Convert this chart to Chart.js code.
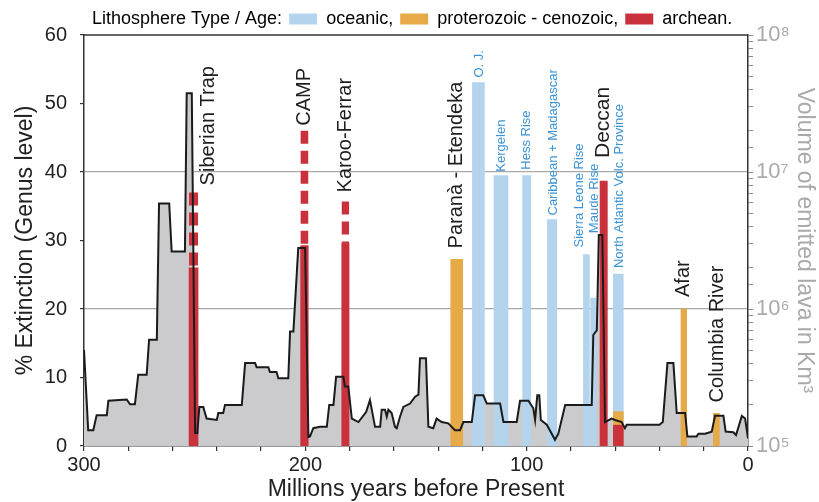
<!DOCTYPE html>
<html>
<head>
<meta charset="utf-8">
<title>Extinction vs LIP volumes</title>
<script src="https://cdn.jsdelivr.net/npm/chart.js@4.4.1/dist/chart.umd.min.js"></script>
<style>
  html, body { margin: 0; padding: 0; background: #fff; }
</style>
</head>
<body>
<canvas id="chart" width="819" height="502"></canvas>
<script>
/**
 * Genus-level extinction through time, with large igneous provinces
 * (volume of emitted lava, log scale) coloured by lithosphere type.
 */

// extinction curve: age (Ma) and % genus extinction
const extinctionAge = [
  300, 298.1, 295.8, 294.3, 289.7, 289.0, 280.7, 279.2, 277.0, 275.5,
  271.7, 270.6, 267.1, 266.1, 261.5, 260.4, 254.4, 253.6, 251.3, 249.8,
  248.8, 247.9, 246.1, 244.6, 240.0, 239.3, 237.1, 236.3, 228.7, 227.2,
  222.7, 222.0, 216.7, 216.0, 213.0, 212.2, 207.7, 206.9, 205.4, 203.2,
  200.1, 198.6, 197.9, 196.4, 193.4, 190.3, 189.2, 187.3, 186.1, 182.8,
  182.1, 180.6, 179.0, 176.0, 172.5, 170.8, 168.5, 166.2, 165.5, 164.0,
  163.2, 162.5, 161.0, 159.5, 158.7, 157.2, 155.7, 152.7, 150.4, 148.9,
  148.2, 145.5, 144.4, 142.2, 140.7, 138.4, 135.4, 132.4, 130.1, 128.6,
  124.8, 123.3, 119.6, 118.0, 112.0, 110.5, 104.5, 103.0, 99.2, 97.0,
  96.2, 95.2, 94.3, 93.6, 90.9, 87.2, 85.7, 82.6, 70.6, 69.9,
  68.3, 67.4, 65.8, 64.6, 61.6, 60.1, 57.1, 55.6, 54.8, 40.0,
  38.5, 36.4, 33.7, 32.2, 28.4, 27.4, 23.2, 22.4, 19.4, 16.4,
  14.9, 11.1, 10.1, 6.6, 5.4, 2.8, 1.3, 0,
];
const extinctionPct = [
  14.0, 2.3, 2.3, 4.5, 4.5, 6.6, 6.8, 6.1, 6.1, 10.4,
  10.4, 15.5, 15.5, 35.4, 35.4, 28.4, 28.4, 51.5, 51.5, 1.9,
  1.9, 5.7, 5.7, 4.0, 3.8, 4.8, 4.8, 6.0, 6.0, 12.1,
  12.1, 11.5, 11.5, 10.8, 10.8, 9.9, 9.9, 16.7, 16.7, 28.9,
  28.9, 1.3, 1.4, 2.6, 2.8, 2.8, 6.0, 6.0, 10.1, 10.1,
  8.7, 8.7, 4.0, 3.5, 5.0, 6.7, 2.8, 2.8, 5.3, 5.3,
  4.3, 5.3, 4.8, 2.8, 2.6, 4.3, 5.7, 6.2, 7.2, 7.5,
  12.8, 12.8, 2.8, 2.6, 4.0, 3.5, 3.3, 2.3, 2.3, 3.5,
  3.5, 7.4, 7.4, 6.2, 6.2, 3.5, 3.5, 6.6, 6.6, 5.5,
  3.8, 7.4, 7.4, 3.8, 3.1, 0.9, 1.8, 6.0, 6.0, 16.2,
  16.9, 30.8, 30.8, 3.5, 4.0, 3.8, 3.5, 2.6, 3.1, 3.1,
  3.5, 12.1, 12.1, 4.8, 4.8, 1.4, 1.4, 1.8, 1.8, 2.1,
  4.4, 4.4, 2.1, 2.0, 1.6, 4.4, 4.0, 1.1,
];

// large igneous provinces
const lipNames = [
  'Siberian Trap', 'CAMP', 'Karoo-Ferrar', 'Paranà - Etendeka', 'O. J.',
  'Kergelen', 'Hess Rise', 'Caribbean + Madagascar', 'Sierra Leone Rise',
  'Maude Rise', 'Deccan', 'North Atlantic Volc. Province', 'Afar', 'Columbia River',
];
const lipAges = [250.5, 200.4, 181.9, 131.6, 121.8, 111.6, 100.0, 88.5, 73.0, 69.9, 65.2, 58.6, 29.0, 14.3];
const lipTypes = [
  'archean', 'archean', 'archean', 'proterozoic', 'oceanic',
  'oceanic', 'oceanic', 'oceanic', 'oceanic',
  'oceanic', 'archean', 'oceanic', 'proterozoic', 'proterozoic',
];
// km3, firm volume (solid bar)
const lipVolumes = [2.0e6, 2.9e6, 3.0e6, 2.3e6, 4.5e7, 9.4e6, 9.4e6, 4.5e6, 2.5e6, 1.2e6, 8.6e6, 1.8e6, 1.0e6, 1.73e5];
// km3, upper estimate (dashed part)
const lipVolumesMax = [7.1e6, 2.0e7, 6.1e6, null, null, null, null, null, null, null, null, null, null, null];

// North Atlantic province: part of it sits on older lithosphere
const navpLowerTypes = ['proterozoic', 'archean'];
const navpLowerTops = [1.78e5, 1.42e5];

// legend + ticks
const lithoTypes = ['oceanic', 'proterozoic', 'archean'];
const lithoLabels = ['oceanic,', 'proterozoic - cenozoic,', 'archean.'];
const ageTickLabels = [300, 200, 100, 0];
const volumeTicks = [1e5, 1e6, 1e7, 1e8];
const volumeTickLabels = ['10⁵', '10⁶', '10⁷', '10⁸'];

// ---- styles ----
const FONT = '"Liberation Sans", Arial, Helvetica, sans-serif';
const VOL_MIN = 1e5;
const typeColors = { oceanic: '#b4d4ee', proterozoic: '#e7aa48', archean: '#c9313d' };
const barWidths = [9, 7.6, 7.3, 12, 12, 14, 8, 9.3, 6, 5.3, 7.3, 10, 5.7, 6];
const labelDx = [15, 0, 0, 0, 1, 0, 0, 1, -7, 1, 0, 1, 0, 1];
const labelGap = [7, 5, 9, 11, 5, 4, 6, 4, 7, 65, 23, 6, 12, 11];

Chart.defaults.font.family = FONT;

const curvePoints = extinctionAge.map((a, i) => ({ x: a, y: extinctionPct[i] }));

// one bar per province so each keeps its own width
const lipBarSets = lipNames.map((name, i) => ({
  type: 'bar',
  label: name,
  data: [{ x: lipAges[i], y: [VOL_MIN, lipVolumes[i]] }],
  yAxisID: 'y2',
  backgroundColor: typeColors[lipTypes[i]],
  borderWidth: 0,
  barThickness: barWidths[i],
  stack: 'lip',
  order: 2,
}));

const navpIdx = lipNames.indexOf('North Atlantic Volc. Province');
const navpSets = navpLowerTypes.map((t, k) => ({
  type: 'bar',
  label: 'NAVP ' + t,
  data: [{ x: lipAges[navpIdx], y: [VOL_MIN, navpLowerTops[k]] }],
  yAxisID: 'y2',
  backgroundColor: typeColors[t],
  borderWidth: 0,
  barThickness: barWidths[navpIdx],
  stack: 'lip',
  order: 1.5 - k * 0.1,
}));

// uncertain upper part, drawn as a thick dashed segment
const dashSets = [];
lipNames.forEach((name, i) => {
  if (!lipVolumesMax[i]) return;
  dashSets.push({
    type: 'line',
    label: name + ' max',
    data: [{ x: lipAges[i], y: lipVolumesMax[i] }, { x: lipAges[i], y: lipVolumes[i] }],
    yAxisID: 'y2',
    borderColor: typeColors[lipTypes[i]],
    borderWidth: barWidths[i],
    borderDash: [13, 7],
    borderCapStyle: 'butt',
    pointRadius: 0,
    fill: false,
    order: 1,
  });
});

/**
 * Rotated LIP names above each bar
 */
const lipLabelPlugin = {
  id: 'lipLabels',
  afterDatasetsDraw(chart) {
    const { ctx, scales: { x, y2 } } = chart;
    lipNames.forEach((name, i) => {
      const top = Math.max(lipVolumes[i], lipVolumesMax[i] || 0);
      const px = x.getPixelForValue(lipAges[i]) + labelDx[i];
      const py = y2.getPixelForValue(top) - labelGap[i];
      const oceanic = lipTypes[i] === 'oceanic';
      const size = oceanic ? 13 : (name === 'Deccan' ? 21 : 20);
      ctx.save();
      ctx.translate(px, py);
      ctx.rotate(-Math.PI / 2);
      ctx.font = `${size}px ${FONT}`;
      ctx.fillStyle = oceanic ? '#3b93d7' : '#1e1e1e';
      ctx.textAlign = 'left';
      ctx.textBaseline = 'middle';
      ctx.fillText(name, 0, 0);
      ctx.restore();
    });
  },
};

/**
 * Close the frame on top and move the legend row into place
 */
const framePlugin = {
  id: 'frame',
  afterLayout(chart) {
    chart.legend.left = 48;
    chart.legend.top = 3;
  },
  afterDraw(chart) {
    const { ctx, chartArea: { left, right, top } } = chart;
    ctx.save();
    ctx.strokeStyle = '#333';
    ctx.lineWidth = 1.5;
    ctx.beginPath();
    ctx.moveTo(left, top);
    ctx.lineTo(right, top);
    ctx.stroke();
    ctx.restore();
  },
};

new Chart(document.getElementById('chart'), {
  type: 'line',
  data: {
    datasets: [
      {
        label: 'extinction fill',
        data: curvePoints,
        yAxisID: 'y',
        borderWidth: 0,
        borderColor: 'rgba(0,0,0,0)',
        backgroundColor: '#cbcbce',
        fill: 'origin',
        pointRadius: 0,
        order: 3,
      },
      ...lipBarSets,
      ...navpSets,
      ...dashSets,
      {
        label: 'extinction',
        data: curvePoints,
        yAxisID: 'y',
        borderColor: '#1b1b1b',
        borderWidth: 2,
        fill: false,
        pointRadius: 0,
        order: 0,
      },
    ],
  },
  options: {
    responsive: false,
    animation: false,
    layout: { padding: 0 },
    plugins: {
      tooltip: { enabled: false },
      legend: {
        display: true,
        position: 'top',
        align: 'start',
        labels: {
          color: '#222',
          font: { size: 18 },
          boxWidth: 28,
          boxHeight: 11,
          padding: 7,
          generateLabels: () => [
            { text: 'Lithosphere Type / Age:', fillStyle: 'rgba(0,0,0,0)', strokeStyle: 'rgba(0,0,0,0)', lineWidth: 0, hidden: false },
            ...lithoTypes.map((t, i) => ({
              text: lithoLabels[i],
              fillStyle: typeColors[t],
              strokeStyle: typeColors[t],
              lineWidth: 0,
              hidden: false,
            })),
          ],
        },
      },
    },
    scales: {
      x: {
        type: 'linear',
        reverse: true,
        min: 0,
        max: 300,
        offset: false,
        grid: { drawOnChartArea: false, offset: false, color: '#333', tickLength: 5, lineWidth: 1.2 },
        border: { color: '#333', width: 1.5 },
        ticks: {
          stepSize: 20,
          autoSkip: false,
          maxRotation: 0,
          color: '#222',
          font: { size: 20 },
          padding: 2,
          callback: (v) => (ageTickLabels.includes(v) ? String(v) : ''),
        },
        title: {
          display: true,
          text: 'Millions years before Present',
          color: '#222',
          font: { size: 23, lineHeight: 1 },
          padding: { top: 0, bottom: 1 },
        },
        afterFit: (s) => { s.height = 56; },
      },
      y: {
        type: 'linear',
        position: 'left',
        min: 0,
        max: 60,
        stacked: false,
        ticks: { stepSize: 10, color: '#222', font: { size: 20 }, padding: 13 },
        grid: {
          color: (c) => (c.tick && (c.tick.value === 20 || c.tick.value === 40) ? '#a9a9a9' : 'rgba(0,0,0,0)'),
          tickColor: '#333',
          tickLength: 4,
          lineWidth: 1.2,
        },
        border: { color: '#333', width: 1.5 },
        title: {
          display: true,
          text: '% Extinction (Genus level)',
          color: '#222',
          font: { size: 23 },
          padding: { top: 12 },
        },
        afterFit: (s) => { s.width = 84; },
      },
      y2: {
        type: 'logarithmic',
        position: 'right',
        min: VOL_MIN,
        max: 1e8,
        stacked: false,
        ticks: {
          autoSkip: false,
          color: '#aaaaaa',
          font: { size: 22 },
          padding: 3,
          callback: (v) => {
            const k = volumeTicks.findIndex((t) => Math.abs(v - t) < t * 1e-6);
            return k >= 0 ? volumeTickLabels[k] : '';
          },
        },
        grid: { drawOnChartArea: false, color: '#8c8c8c', tickLength: 5 },
        border: { color: '#333', width: 1.5 },
        title: {
          display: true,
          text: 'Volume of emitted lava in Km³',
          color: '#aaaaaa',
          font: { size: 23 },
          padding: { top: 1 },
        },
        afterFit: (s) => { s.width = 71; },
      },
    },
  },
  plugins: [lipLabelPlugin, framePlugin],
});
</script>
</body>
</html>
